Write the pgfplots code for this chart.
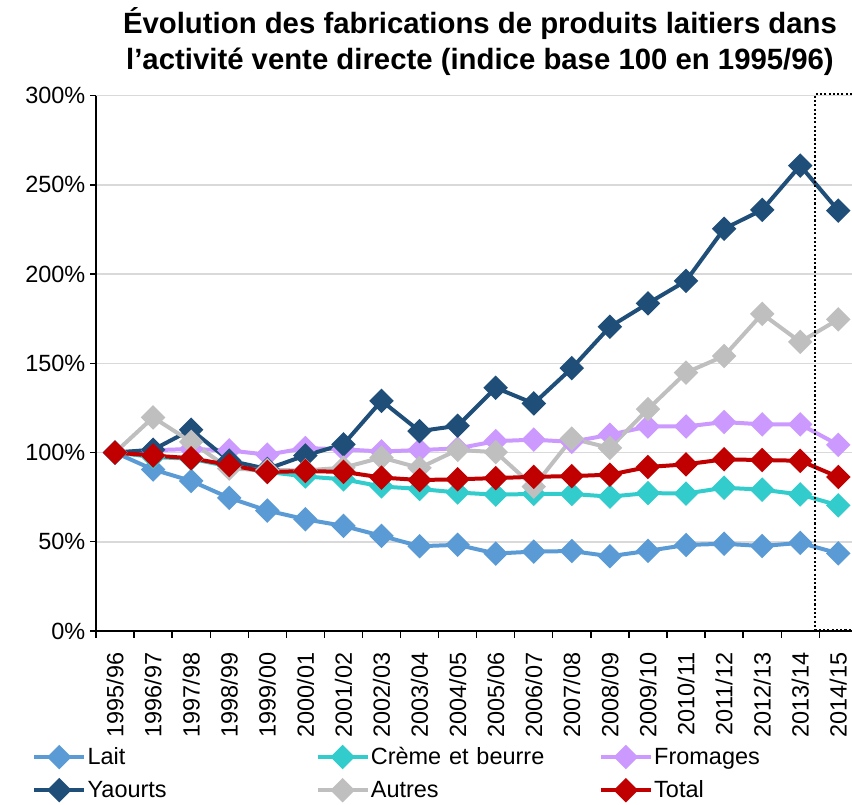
\documentclass[border=0pt]{standalone}
\usepackage{pgfplots}
\pgfplotsset{compat=1.18}
\usepackage{fontspec}
\setmainfont{Liberation Sans}
\definecolor{lait}{HTML}{5B9BD5}
\definecolor{creme}{HTML}{33CCCC}
\definecolor{fromages}{HTML}{CC99FF}
\definecolor{yaourts}{HTML}{1F4E79}
\definecolor{autres}{HTML}{BFBFBF}
\definecolor{total}{HTML}{C00000}
\definecolor{grille}{HTML}{D9D9D9}
\begin{document}
\begin{tikzpicture}
\begin{axis}[
    name=ax,
    scale only axis,
    width=567pt, height=401.5pt,
    xmin=-0.5, xmax=19.36,
    ymin=0, ymax=300,
    axis lines*=left,
    axis line style={line width=1.5pt},
    xtick={0,...,19},
    xticklabels={1995/96,1996/97,1997/98,1998/99,1999/00,2000/01,2001/02,2002/03,2003/04,2004/05,2005/06,2006/07,2007/08,2008/09,2009/10,2010/11,2011/12,2012/13,2013/14,2014/15},
    minor xtick={-0.5,0.5,...,19.5},
    x tick style={draw=none},
    minor x tick style={draw=black, line width=1pt},
    minor tick length=5.25pt,
    xtick pos=bottom, ytick pos=left,
    tick align=outside,
    ytick={0,50,...,300},
    y tick style={black, line width=1pt},
    major tick length=4.5pt,
    ymajorgrids,
    grid style={grille, line width=1.2pt},
    yticklabel={\pgfmathprintnumber{\tick}\%},
    /pgf/number format/assume math mode=true,
    ticklabel style={font=\fontsize{17.6}{21}\selectfont},
    xticklabel style={rotate=90, anchor=east, xshift=-8pt},
    every axis plot/.append style={line width=3pt, mark=square*, mark size=5pt,
        mark options={rotate=45, solid}},
    legend columns=3,
    legend style={at={(-0.090,-0.207)}, anchor=north west, draw=none,
        font=\fontsize{17.6}{21}\selectfont, row sep=6.5pt,
        nodes={text width=170pt, align=left, inner xsep=1pt}},
    legend cell align=left,
    legend image code/.code={\draw[mark repeat=2,mark phase=2] plot coordinates {(0pt,0pt) (18.75pt,0pt) (37.5pt,0pt)};},
    clip=false,
]
\addplot[color=lait] coordinates {(0,100) (1,90.5) (2,84.1) (3,74.6) (4,67.5) (5,62.6) (6,58.9) (7,53.3) (8,47.5) (9,48.3) (10,43.4) (11,44.5) (12,44.8) (13,41.9) (14,44.9) (15,48.2) (16,48.9) (17,47.6) (18,49.4) (19,43.5)};
\addlegendentry{Lait}
\addplot[color=creme] coordinates {(0,100) (1,97.5) (2,96.5) (3,92.2) (4,89.2) (5,86.6) (6,85.0) (7,81.0) (8,79.6) (9,77.6) (10,76.4) (11,76.8) (12,76.8) (13,75.3) (14,77.3) (15,77.0) (16,80.3) (17,79.2) (18,76.5) (19,70.4)};
\addlegendentry{Crème et beurre}
\addplot[color=fromages] coordinates {(0,100) (1,101.3) (2,102.0) (3,101.2) (4,98.8) (5,102.5) (6,101.8) (7,100.6) (8,101.4) (9,102.3) (10,106.4) (11,107.2) (12,106.0) (13,110.0) (14,114.6) (15,114.6) (16,117.1) (17,115.8) (18,115.8) (19,104.3)};
\addlegendentry{Fromages}
\addplot[color=yaourts] coordinates {(0,100) (1,101.6) (2,112.8) (3,95.5) (4,90.8) (5,98.4) (6,104.6) (7,129.0) (8,112.0) (9,115.0) (10,136.3) (11,127.5) (12,147.3) (13,170.5) (14,183.6) (15,196.2) (16,225.4) (17,236.0) (18,260.8) (19,235.6)};
\addlegendentry{Yaourts}
\addplot[color=autres] coordinates {(0,100) (1,119.7) (2,106.0) (3,91.0) (4,90.2) (5,90.0) (6,91.5) (7,97.2) (8,91.4) (9,101.5) (10,100.2) (11,80.9) (12,107.8) (13,102.6) (14,124.3) (15,144.8) (16,154.1) (17,177.7) (18,162.0) (19,174.6)};
\addlegendentry{Autres}
\addplot[color=total] coordinates {(0,100) (1,98.3) (2,96.8) (3,93.0) (4,89.1) (5,89.6) (6,89.2) (7,86.0) (8,84.6) (9,85.0) (10,85.7) (11,86.4) (12,86.8) (13,87.6) (14,91.9) (15,93.4) (16,96.2) (17,95.8) (18,95.4) (19,86.3)};
\addlegendentry{Total}
\draw[line width=1.6pt, dash pattern=on 1.6pt off 1.6pt] (axis cs:19.36,300.8) -- (axis cs:18.39,300.8) -- (axis cs:18.39,0.8) -- (axis cs:19.36,0.8);
\end{axis}
\node[align=center, font=\fontsize{22}{27}\selectfont\bfseries] at ([shift={(288pt,441.75pt)}]ax.south west)
    {Évolution des fabrications de produits laitiers dans\\l’activité vente directe (indice base 100 en 1995/96)};
\pgfresetboundingbox
\path ([shift={(-72pt,-130.5pt)}]ax.south west) rectangle ++(639pt,603.75pt);
\end{tikzpicture}
\end{document}
